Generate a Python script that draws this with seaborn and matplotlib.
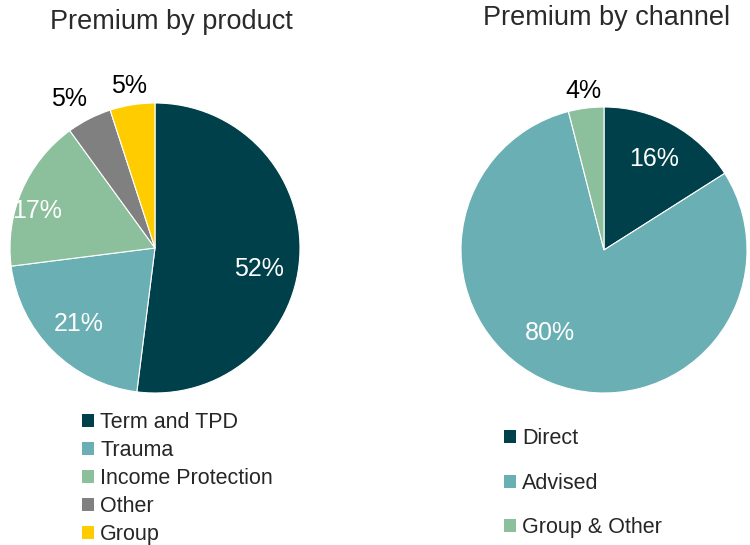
import numpy as np
import matplotlib
matplotlib.use("Agg")
import matplotlib.pyplot as plt
import seaborn as sns
from matplotlib.patches import Patch

# data
product_labels = ["Term and TPD", "Trauma", "Income Protection", "Other", "Group"]
product_values = [52, 21, 17, 5, 5]
product_colors = ["#00404a", "#6aafb4", "#8cbf9b", "#808080", "#ffcc00"]

channel_labels = ["Direct", "Advised", "Group & Other"]
channel_values = [16, 80, 4]
channel_colors = ["#00404a", "#6aafb4", "#8cbf9b"]

sns.set_theme(style="white")
plt.rcParams["font.family"] = ["Liberation Sans", "DejaVu Sans"]

W, H = 750, 545
fig = plt.figure(figsize=(W / 100, H / 100), dpi=100)


def px_axes(cx, cy, r):
    return fig.add_axes([(cx - r) / W, (H - cy - r) / H, 2 * r / W, 2 * r / H])


def draw_pie(ax, values, colors, dists, shifts, text_colors):
    wedges, _ = ax.pie(values, colors=colors, startangle=90, counterclock=False,
                       wedgeprops=dict(edgecolor="white", linewidth=0.8))
    for w, v, d, s, tc in zip(wedges, values, dists, shifts, text_colors):
        ang = np.deg2rad((w.theta1 + w.theta2) / 2 + s)
        ax.text(d * np.cos(ang), d * np.sin(ang), f"{v}%", ha="center", va="center",
                fontsize=18, color=tc)
    ax.set_xlim(-1, 1)
    ax.set_ylim(-1, 1)
    ax.set_aspect("equal")
    ax.axis("off")


ax1 = px_axes(155, 248, 145)
draw_pie(ax1, product_values, product_colors,
         [0.73, 0.74, 0.85, 1.19, 1.13],
         [-8, 0, 6, 3, 0],
         ["white", "white", "white", "black", "black"])

ax2 = px_axes(604, 250, 143)
draw_pie(ax2, channel_values, channel_colors,
         [0.73, 0.69, 1.12],
         [0, -11.5, 0],
         ["white", "white", "black"])

fig.text(171 / W, 1 - 22 / H, "Premium by product", ha="center", va="center",
         fontsize=19.5, color="#2a2a2a")
fig.text(607 / W, 1 - 18 / H, "Premium by channel", ha="center", va="center",
         fontsize=19.5, color="#2a2a2a")

h1 = [Patch(facecolor=c, edgecolor="none") for c in product_colors]
fig.legend(h1, product_labels, loc="upper left", bbox_to_anchor=(82 / W, 1 - 412 / H),
           frameon=False, fontsize=15.5, handlelength=0.55, handleheight=0.55,
           handletextpad=0.3, labelspacing=0.33, borderaxespad=0, borderpad=0)

h2 = [Patch(facecolor=c, edgecolor="none") for c in channel_colors]
fig.legend(h2, channel_labels, loc="upper left", bbox_to_anchor=(504 / W, 1 - 428 / H),
           frameon=False, fontsize=15.5, handlelength=0.55, handleheight=0.55,
           handletextpad=0.3, labelspacing=1.1, borderaxespad=0, borderpad=0)

fig.savefig("out.png", dpi=100)
